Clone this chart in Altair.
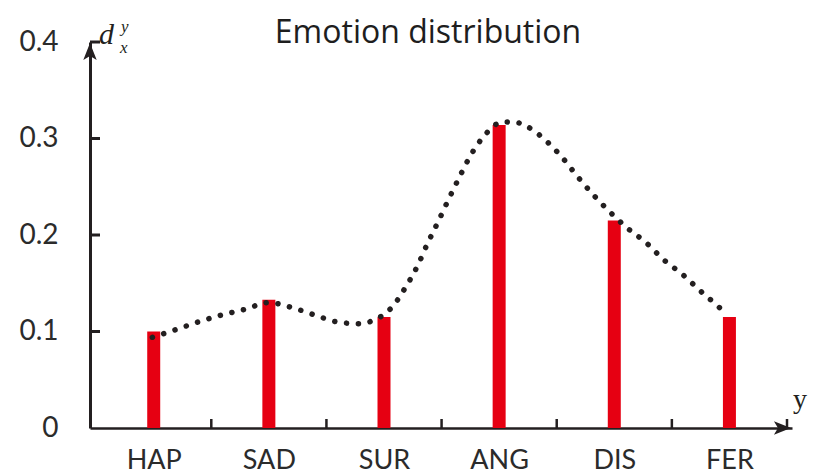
import altair as alt
import pandas as pd

categories = ["HAP", "SAD", "SUR", "ANG", "DIS", "FER"]
values = [0.100, 0.133, 0.115, 0.314, 0.215, 0.115]

curve_x = [0.988, 1.193, 1.390, 1.587, 1.793, 1.998, 2.195, 2.401, 2.589, 2.795,
           2.897, 2.991, 3.068, 3.188, 3.291, 3.377, 3.471, 3.557, 3.651, 3.745,
           3.865, 4.027, 4.130, 4.233, 4.404, 4.550, 4.678, 4.815, 4.961, 5.115,
           5.277, 5.432, 5.594, 5.748, 5.911, 5.979]
curve_y = [0.094, 0.102, 0.110, 0.117, 0.123, 0.130, 0.125, 0.117, 0.110, 0.108,
           0.111, 0.117, 0.125, 0.146, 0.168, 0.191, 0.214, 0.236, 0.259, 0.281,
           0.302, 0.317, 0.317, 0.313, 0.298, 0.280, 0.261, 0.242, 0.224, 0.207,
           0.192, 0.174, 0.159, 0.142, 0.125, 0.117]

y_ticks = [0, 0.1, 0.2, 0.3, 0.4]
x_boundaries = [1.5, 2.5, 3.5, 4.5, 5.5, 6.5]

AX = "#231f20"
RED = "#e60012"
FONT = "Lato"

bars_df = pd.DataFrame({"pos": list(range(1, len(categories) + 1)),
                        "cat": categories, "val": values})
curve_df = pd.DataFrame({"pos": curve_x, "val": curve_y})
ytick_df = pd.DataFrame({"val": [t for t in y_ticks if t > 0]})
xtick_df = pd.DataFrame({"pos": x_boundaries})

xscale = alt.Scale(domain=[0.49, 6.5], nice=False, zero=False)
yscale = alt.Scale(domain=[0, 0.4], nice=False)

label_expr = "[" + ",".join(["''"] + [f"'{c}'" for c in categories]) + "][datum.value]"

xaxis = alt.Axis(values=list(range(1, 7)), labelExpr=label_expr, title=None,
                 grid=False, ticks=False, domainColor=AX, domainWidth=2.5,
                 labelFont=FONT, labelFontSize=27, labelColor="#2b2b2b",
                 labelPadding=19)
yaxis = alt.Axis(values=y_ticks, format="~g", title=None, grid=False,
                 ticks=False, domainColor=AX, domainWidth=3,
                 labelFont=FONT, labelFontSize=28, labelColor="#2b2b2b",
                 labelPadding=32)

X = alt.X("pos:Q", scale=xscale, axis=xaxis, title=None)
Y = alt.Y("val:Q", scale=yscale, axis=yaxis, title=None)

bars = alt.Chart(bars_df).mark_bar(size=13, color=RED).encode(x=X, y=Y)

curve = alt.Chart(curve_df).mark_line(
    interpolate="monotone", color=AX, strokeWidth=5.5, strokeDash=[0.1, 11.8],
    strokeCap="round").encode(x=X, y=Y)

yticks = alt.Chart(ytick_df).mark_rule(color=AX, strokeWidth=3).encode(
    y=Y, x=alt.value(0), x2=alt.value(10))

xticks = alt.Chart(xtick_df).mark_rule(color=AX, strokeWidth=2.5).encode(
    x=X, y=alt.value(386), y2=alt.value(377))

up_arrow = alt.Chart(alt.Data(values=[{"a": 1}])).mark_point(
    shape="M0,-1 L0.75,0.9 L0,0.45 L-0.75,0.9 Z", filled=True, color=AX,
    opacity=1, size=320).encode(x=alt.value(0), y=alt.value(10))

right_arrow = alt.Chart(alt.Data(values=[{"a": 1}])).mark_point(
    shape="M1,0 L-0.9,0.75 L-0.45,0 L-0.9,-0.75 Z", filled=True, color=AX,
    opacity=1, size=320).encode(x=alt.value(692), y=alt.value(386))

def txt(s, x, y, size, font, style="normal", align="left", baseline="alphabetic", color=AX):
    return alt.Chart(alt.Data(values=[{"t": s}])).mark_text(
        font=font, fontSize=size, fontStyle=style, align=align, baseline=baseline,
        color=color).encode(text="t:N", x=alt.value(x), y=alt.value(y))

title = txt("Emotion distribution", 338, 1, 32, "Open Sans", color="#1e1e1e", align="center")
d_lbl = txt("d", 9, 2, 30, "Liberation Serif", style="italic")
d_sup = txt("y", 31, -10, 17, "Liberation Serif", style="italic")
d_sub = txt("x", 30, 11, 17, "Liberation Serif", style="italic")
y_lbl = txt("y", 703, 366, 28, "Liberation Serif")

chart = alt.layer(bars, curve, yticks, xticks, up_arrow, right_arrow,
                  title, d_lbl, d_sup, d_sub, y_lbl).properties(
    width=702, height=386,
    autosize=alt.AutoSizeParams(type="none"),
    padding={"left": 82, "top": 34, "right": 16, "bottom": 46},
).configure_view(stroke=None)

chart.save("out.html", embed_options={"renderer": "svg", "actions": False})
